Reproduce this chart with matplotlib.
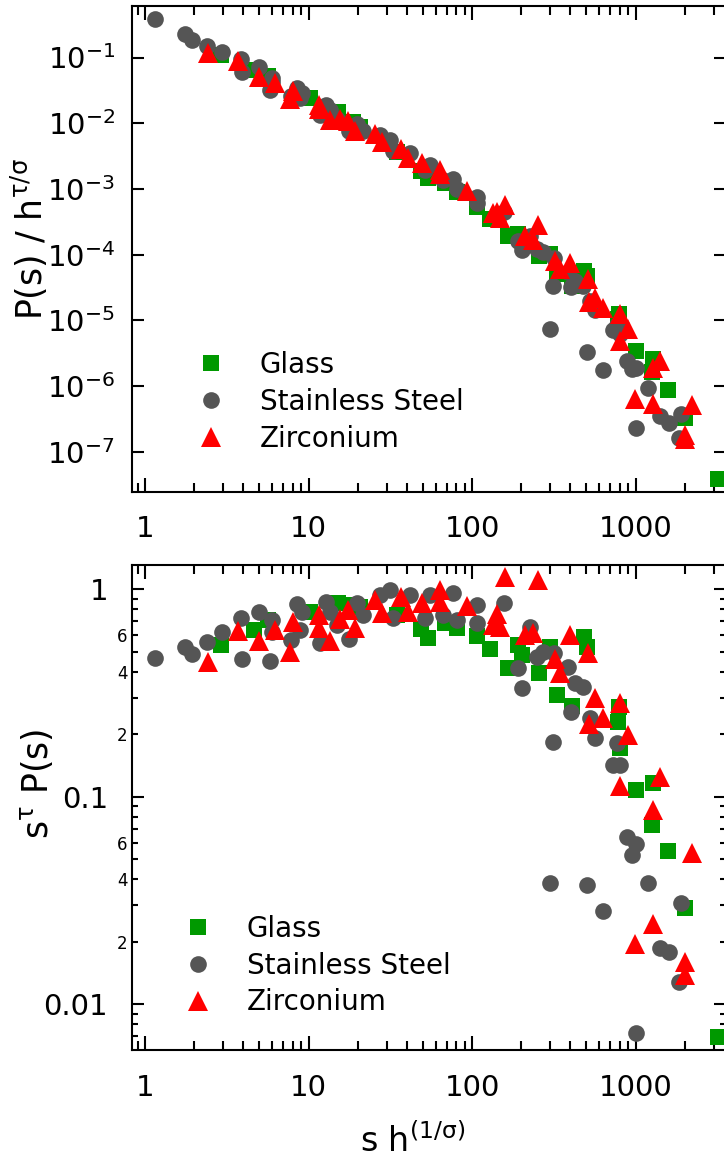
import numpy as np
import matplotlib.pyplot as plt
from matplotlib.ticker import LogLocator, NullLocator, NullFormatter, FuncFormatter

# exponente tau: panel superior = s^tau P(s) / (s h^(1/sigma))^tau
TAU = 1.5

# Glass: x = s h^(1/sigma), sP = s^tau P(s)
glass_x = [2.92, 4.64, 5.65, 10.2, 15.1, 18.8, 20.7, 34.8, 48.8, 53.8, 68.4, 80.6,
           107, 129, 166, 192, 201, 257, 301, 331, 409, 484, 505, 787, 782, 804,
           1007, 1279, 1262, 1587, 2009, 3210]
glass_sP = [0.538, 0.636, 0.711, 0.777, 0.856, 0.840, 0.822, 0.752, 0.643, 0.580,
            0.685, 0.648, 0.595, 0.515, 0.416, 0.539, 0.482, 0.395, 0.529, 0.309,
            0.2735, 0.589, 0.527, 0.2715, 0.2298, 0.1725, 0.1076, 0.116, 0.0729,
            0.0547, 0.0292, 0.00695]

# Stainless Steel
steel_x = [1.15, 1.76, 1.93, 2.38, 2.96, 3.84, 3.92, 4.95, 5.82, 5.98, 5.94, 7.82,
           8.45, 9.06, 8.87, 12.8, 13.5, 11.8, 14.9, 17.7, 19.7, 21.6, 27.4, 31.5,
           33.0, 41.8, 51.6, 55.3, 66.7, 76.9, 80.6, 107, 107, 156, 190, 202, 226,
           250, 273, 316, 389, 427, 474, 403, 315, 527, 565, 771, 733, 804, 884,
           1007, 948, 300, 503, 635, 1188, 1897, 1413, 1610, 1845, 1003]
steel_sP = [0.468, 0.529, 0.488, 0.559, 0.624, 0.725, 0.463, 0.780, 0.451, 0.711,
            0.622, 0.569, 0.854, 0.780, 0.636, 0.873, 0.780, 0.549, 0.673, 0.576,
            0.856, 0.752, 0.939, 0.992, 0.725, 0.939, 0.725, 0.939, 0.752, 0.957,
            0.711, 0.840, 0.685, 0.856, 0.416, 0.333, 0.658, 0.473, 0.500, 0.491,
            0.423, 0.352, 0.339, 0.257, 0.184, 0.239, 0.191, 0.182, 0.142, 0.142,
            0.0641, 0.0595, 0.0523, 0.0386, 0.0375, 0.0282, 0.0386, 0.0306,
            0.01875, 0.01786, 0.0128, 0.0073]

# Zirconium
zr_x = [2.44, 3.68, 4.95, 6.20, 7.73, 8.04, 11.6, 11.6, 13.5, 15.5, 17.5, 19.2,
        25.5, 28.0, 36.8, 40.8, 49.3, 63.7, 63.7, 93.2, 135, 142, 148, 160, 252,
        212, 237, 323, 346, 399, 510, 567, 516, 629, 806, 900, 806, 1409, 1274,
        2225, 1285, 993, 2009, 2009]
zr_sP = [0.446, 0.629, 0.563, 0.636, 0.498, 0.698, 0.752, 0.654, 0.563, 0.719,
         0.795, 0.651, 0.888, 0.766, 0.913, 0.780, 0.856, 0.992, 0.871, 0.831,
         0.673, 0.760, 0.660, 1.14, 1.109, 0.602, 0.613, 0.461, 0.393, 0.602,
         0.491, 0.298, 0.224, 0.241, 0.282, 0.198, 0.1125, 0.1247, 0.0862,
         0.0533, 0.0245, 0.0196, 0.0160, 0.01378]

series = [
    (glass_x, glass_sP, 's', '#009900', 12, 'Glass'),
    (steel_x, steel_sP, 'o', '#555555', 12, 'Stainless Steel'),
    (zr_x, zr_sP, '^', '#ff0000', 14, 'Zirconium'),
]

plt.rcParams.update({'font.family': 'DejaVu Sans', 'mathtext.default': 'regular'})

fig = plt.figure(figsize=(7.24, 11.62), dpi=100)
ax1 = fig.add_axes([0.1819, 0.5769, 0.8209, 0.4180])
ax2 = fig.add_axes([0.1819, 0.0964, 0.8209, 0.4174])

for ax, scaled in ((ax1, False), (ax2, True)):
    for x, sp, m, c, ms, lab in series:
        x = np.array(x)
        sp = np.array(sp)
        y = sp if scaled else sp / x**TAU
        ax.plot(x, y, ls='none', marker=m, color=c, ms=ms, mew=0, label=lab)
    ax.set_xscale('log')
    ax.set_yscale('log')
    ax.set_xlim(0.829, 3577)
    for s in ax.spines.values():
        s.set_linewidth(1.5)
    ax.xaxis.set_major_formatter(FuncFormatter(lambda v, p: f'{v:g}'))
    ax.xaxis.set_minor_formatter(NullFormatter())
    ax.tick_params(which='both', direction='in', top=True, right=True, width=1.5)
    ax.tick_params(axis='x', which='major', length=10, pad=17, labelsize=21)
    ax.tick_params(axis='x', which='minor', length=6.5)
    ax.legend(loc='center left', frameon=False, fontsize=20, handlelength=1,
              handletextpad=1.26, labelspacing=0.32, borderpad=0, borderaxespad=0,
              numpoints=1)

# panel superior
ax1.set_ylim(2.46e-8, 0.61)
ax1.yaxis.set_major_locator(LogLocator(base=10, numticks=20))
ax1.yaxis.set_minor_locator(NullLocator())
ax1.yaxis.set_major_formatter(
    FuncFormatter(lambda v, p: f'$10^{{{int(round(np.log10(v)))}}}$'))
ax1.tick_params(axis='y', which='major', length=8.6, pad=12, labelsize=21)
ax1.set_ylabel(r'P(s) / h$^{\tau/\sigma}$', fontsize=25)
ax1.yaxis.set_label_coords(-0.1375, 0.52)
ax1.get_legend().set_bbox_to_anchor((0.110, 0.1853))


def minor_lab(v, p):
    m = int(round(v / 10**np.floor(np.log10(v) + 1e-9)))
    return str(m) if m in (2, 4, 6) else ''


# panel inferior
ax2.set_ylim(0.00602, 1.31)
ax2.yaxis.set_major_locator(LogLocator(base=10, numticks=20))
ax2.yaxis.set_minor_locator(LogLocator(base=10, subs=[2, 3, 4, 5, 6, 7, 8, 9], numticks=20))
ax2.yaxis.set_major_formatter(FuncFormatter(lambda v, p: f'{v:g}'))
ax2.yaxis.set_minor_formatter(FuncFormatter(minor_lab))
ax2.tick_params(axis='y', which='major', length=8.6, pad=17, labelsize=21)
ax2.tick_params(axis='y', which='minor', length=4, pad=3, labelsize=12)
ax2.set_ylabel(r's$^{\tau}$ P(s)', fontsize=25)
ax2.yaxis.set_label_coords(-0.129, 0.548)
ax2.set_xlabel(r's h$^{(1/\sigma)}$', fontsize=24)
ax2.xaxis.set_label_coords(0.472, -0.152)
ax2.get_legend().set_bbox_to_anchor((0.088, 0.174))

plt.savefig('out.png', dpi=100)
